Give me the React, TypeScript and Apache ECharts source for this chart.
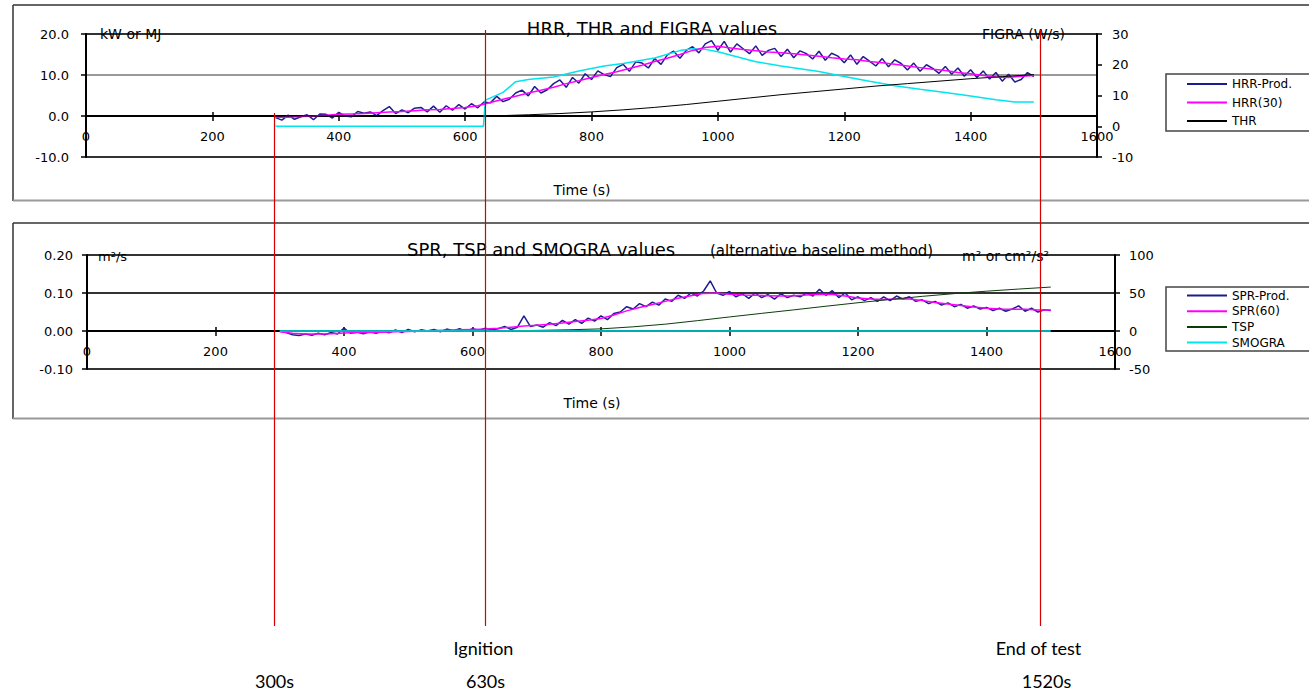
import React, { useEffect, useRef } from "react";
import * as echarts from "echarts";

const FONT = '"DejaVu Sans", "Liberation Sans", Arial, sans-serif';
const NOTE_FONT = 'Lato, "Open Sans", sans-serif';

// sampling instants (s)
const times10 = Array.from({ length: 121 }, (_, i) => 300 + i * 10);
const times20 = Array.from({ length: 61 }, (_, i) => 300 + i * 20);

// HRR-Prod. (kW), every 10 s from 300 s to 1500 s
const hrrProd = [
  -0.4, -1.0, 0.2, -0.8, -0.2, 0.3, -0.9, 0.5, 0.4, -0.5,
  0.9, 0.0, -0.2, 1.1, 0.7, 1.0, 0.1, 1.3, 2.3, 0.6,
  1.5, 0.8, 1.9, 2.1, 1.0, 2.4, 0.9, 2.5, 1.4, 2.8,
  1.7, 3.0, 2.0, 3.4, 3.2, 4.8, 3.5, 4.1, 5.6, 6.3,
  4.9, 7.2, 5.6, 6.4, 7.9, 8.8, 7.0, 9.4, 8.0, 10.3,
  8.9, 11.0, 10.1, 9.6, 11.8, 12.6, 10.9, 13.2, 12.9, 11.7,
  14.0, 12.6, 14.9, 15.8, 14.1, 16.0, 16.9, 15.4, 17.6, 18.4,
  16.0, 18.2, 15.6, 17.6, 16.4, 15.2, 17.1, 14.8, 16.0, 16.5,
  14.5, 16.3, 14.2, 15.9, 15.2, 13.9, 15.8, 13.6, 15.3, 14.6,
  13.0, 14.9, 12.6, 14.5, 13.4, 12.2, 14.0, 12.0, 13.7, 12.8,
  11.2, 12.9, 10.9, 12.5, 11.6, 10.4, 12.1, 10.2, 11.7, 9.7,
  11.3, 9.4, 11.0, 9.0, 10.6, 8.5, 10.2, 8.3, 8.9, 10.6,
  9.6,
];

// HRR(30) (kW), every 20 s from 300 s to 1500 s
const hrr30 = [
  -0.3, -0.3, -0.1, 0.0, 0.2, 0.4, 0.5, 0.6, 0.8, 1.0,
  1.1, 1.3, 1.5, 1.6, 1.8, 2.1, 2.5, 3.3, 4.1, 4.8,
  5.6, 6.3, 7.0, 7.9, 8.6, 9.4, 10.1, 10.8, 11.6, 12.4,
  13.3, 14.1, 15.0, 16.0, 16.7, 17.0, 16.6, 16.2, 15.9, 15.6,
  15.4, 15.2, 14.9, 14.6, 14.2, 13.9, 13.7, 13.3, 13.0, 12.6,
  12.2, 11.8, 11.4, 11.1, 10.6, 10.3, 9.9, 9.5, 9.4, 9.7,
  9.9,
];

// THR (MJ)
const thrTimes = [300, 630, 660, 700, 750, 800, 850, 900, 950, 1000, 1050, 1100, 1150, 1200, 1250, 1300, 1350, 1400, 1450, 1500];
const thrValues = [0, 0, 0.1, 0.3, 0.6, 1.0, 1.5, 2.1, 2.8, 3.6, 4.4, 5.2, 5.9, 6.6, 7.3, 7.9, 8.5, 9.1, 9.6, 10.1];

// FIGRA (W/s)
const figraTimes = [300, 629, 632, 660, 680, 700, 740, 780, 820, 850, 900, 940, 960, 980, 1000, 1030, 1060, 1100, 1160, 1200, 1240, 1280, 1320, 1360, 1400, 1440, 1470, 1500];
const figraValues = [0, 0, 8.5, 11, 14.5, 15.2, 16.0, 18.0, 19.6, 20.4, 22.2, 24.6, 25.2, 25.0, 24.2, 22.6, 21.0, 19.6, 17.8, 16.2, 14.6, 13.2, 12.0, 11.0, 9.8, 8.6, 7.9, 7.9];

// SPR-Prod. (m²/s), every 10 s from 300 s to 1500 s
const sprProd = [
  0.000, -0.004, -0.010, -0.012, -0.008, -0.011, -0.006, -0.010, -0.004, -0.008,
  0.008, -0.006, -0.003, -0.007, -0.002, -0.006, 0.000, -0.005, 0.003, -0.004,
  0.004, -0.002, 0.003, 0.000, 0.004, -0.002, 0.005, 0.001, 0.006, -0.001,
  0.006, 0.002, 0.007, 0.003, 0.006, 0.012, 0.004, 0.010, 0.040, 0.012,
  0.016, 0.010, 0.022, 0.014, 0.028, 0.018, 0.030, 0.020, 0.034, 0.026,
  0.040, 0.030, 0.046, 0.050, 0.064, 0.058, 0.072, 0.064, 0.076, 0.068,
  0.084, 0.078, 0.094, 0.086, 0.100, 0.092, 0.106, 0.132, 0.100, 0.094,
  0.104, 0.090, 0.098, 0.086, 0.100, 0.088, 0.096, 0.084, 0.098, 0.088,
  0.094, 0.090, 0.100, 0.092, 0.110, 0.094, 0.106, 0.088, 0.100, 0.082,
  0.090, 0.080, 0.088, 0.078, 0.090, 0.080, 0.092, 0.084, 0.090, 0.078,
  0.082, 0.072, 0.078, 0.068, 0.074, 0.064, 0.070, 0.060, 0.066, 0.058,
  0.062, 0.054, 0.060, 0.052, 0.058, 0.066, 0.052, 0.060, 0.050, 0.056,
  0.054,
];

// SPR(60) (m²/s), every 20 s from 300 s to 1500 s
const spr60 = [
  -0.002, -0.006, -0.008, -0.008, -0.007, -0.005, -0.004, -0.004, -0.003, -0.002,
  -0.001, 0.000, 0.001, 0.002, 0.003, 0.004, 0.005, 0.007, 0.010, 0.013,
  0.015, 0.018, 0.021, 0.025, 0.028, 0.033, 0.042, 0.053, 0.062, 0.070,
  0.078, 0.086, 0.093, 0.099, 0.100, 0.097, 0.095, 0.094, 0.093, 0.092,
  0.093, 0.095, 0.097, 0.096, 0.092, 0.087, 0.084, 0.083, 0.084, 0.084,
  0.080, 0.075, 0.071, 0.067, 0.063, 0.060, 0.058, 0.057, 0.057, 0.055,
  0.055,
];

// TSP (m²)
const tspTimes = [300, 600, 650, 700, 750, 800, 850, 900, 950, 1000, 1050, 1100, 1150, 1200, 1250, 1300, 1350, 1400, 1450, 1500];
const tspValues = [0, 0, 0.3, 0.8, 1.6, 2.8, 5.5, 9.0, 13.6, 18.5, 23.2, 27.8, 32.6, 37.2, 41.5, 45.6, 49.2, 52.4, 55.2, 57.8];

// SMOGRA (cm²/s²)
const smograTimes = [300, 1500];
const smograValues = [0, 0];

// annotation labels under the charts
const markerTimesText = ["300s", "630s", "1520s"];
const markerNotes = ["", "Ignition", "End of test"];

const zip = (t: number[], v: number[]) => t.map((x, i) => [x, v[i]]);

export default function App() {
  const ref = useRef<HTMLDivElement>(null);

  useEffect(() => {
    if (!ref.current) return;
    const chart = echarts.init(ref.current, undefined, { renderer: "svg" });

    const axisLabelBase = { fontFamily: FONT, fontSize: 13, color: "#000" };
    const blackLine = { color: "#000", width: 2 };

    const xAxisCommon = (gridIndex: number, labelMargin: number, zeroAxis: number) => ({
      gridIndex,
      type: "value",
      position: "bottom",
      min: 0,
      max: 1600,
      interval: 200,
      axisLine: { show: true, onZero: true, onZeroAxisIndex: zeroAxis, lineStyle: blackLine },
      axisTick: { show: true, length: 5, lineStyle: { color: "#000", width: 1.5 } },
      axisLabel: { ...axisLabelBase, margin: labelMargin, formatter: (v: number) => String(v) },
      splitLine: { show: false },
    });
    // upper half of the crossing tick marks
    const xTickUp = (gridIndex: number, zeroAxis: number) => ({
      gridIndex,
      type: "value",
      position: "bottom",
      min: 0,
      max: 1600,
      interval: 200,
      axisLine: { show: true, onZero: true, onZeroAxisIndex: zeroAxis, lineStyle: blackLine },
      axisTick: { show: true, inside: true, length: 4, lineStyle: { color: "#000", width: 1.5 } },
      axisLabel: { show: false },
      splitLine: { show: false },
    });

    const lineSeries = (name: string, xi: number, yi: number, data: number[][], color: string, width: number, z = 2) => ({
      name,
      type: "line",
      xAxisIndex: xi,
      yAxisIndex: yi,
      data,
      showSymbol: false,
      symbol: "none",
      lineStyle: { color, width },
      itemStyle: { color },
      z,
    });

    const legendCommon = {
      orient: "vertical",
      left: 1166,
      icon: "rect",
      itemWidth: 40,
      itemHeight: 2,
      selectedMode: false,
      borderColor: "#444",
      borderWidth: 1.5,
      backgroundColor: "#fff",
      textStyle: { fontFamily: FONT, fontSize: 12, color: "#000", lineHeight: 13 },
    };

    const txt = (text: string, x: number, y: number, font: string, align = "center", vAlign = "middle") => ({
      type: "text",
      x,
      y,
      z: 50,
      style: { text, font, fill: "#000", align, verticalAlign: vAlign },
    });

    const redX = [274.5, 485.5, 1040.5];
    const redTop = [113, 30, 30];
    const graphics: any[] = [
      // outer frames
      { type: "line", shape: { x1: 13, y1: 5, x2: 1309, y2: 5 }, style: { stroke: "#333", lineWidth: 1.5 }, z: 1 },
      { type: "line", shape: { x1: 13, y1: 5, x2: 13, y2: 201 }, style: { stroke: "#333", lineWidth: 1.5 }, z: 1 },
      { type: "line", shape: { x1: 13, y1: 200.5, x2: 1309, y2: 200.5 }, style: { stroke: "#999", lineWidth: 2 }, z: 1 },
      { type: "line", shape: { x1: 13, y1: 223, x2: 1309, y2: 223 }, style: { stroke: "#333", lineWidth: 1.5 }, z: 1 },
      { type: "line", shape: { x1: 13, y1: 223, x2: 13, y2: 419 }, style: { stroke: "#333", lineWidth: 1.5 }, z: 1 },
      { type: "line", shape: { x1: 13, y1: 418.5, x2: 1309, y2: 418.5 }, style: { stroke: "#999", lineWidth: 2 }, z: 1 },
      // titles and axis names
      txt("HRR, THR and FIGRA values", 652, 28, `18px ${FONT}`),
      txt("kW or MJ", 100, 34, `14px ${FONT}`, "left"),
      txt("FIGRA (W/s)", 982, 34, `14px ${FONT}`, "left"),
      txt("Time (s)", 582, 190, `14px ${FONT}`),
      txt("SPR, TSP and SMOGRA values", 407, 258, `18px ${FONT}`, "left", "bottom"),
      txt("(alternative baseline method)", 710, 258, `15px ${FONT}`, "left", "bottom"),
      txt("m²/s", 98, 256, `13px ${FONT}`, "left"),
      txt("m² or cm²/s²", 962, 256, `14px ${FONT}`, "left"),
      txt("Time (s)", 592, 403, `14px ${FONT}`),
    ];
    redX.forEach((x, i) => {
      graphics.push({
        type: "line",
        shape: { x1: x, y1: redTop[i], x2: x, y2: 626 },
        style: { stroke: "#d40000", lineWidth: 1.2 },
        z: 100,
      });
      if (markerNotes[i]) graphics.push(txt(markerNotes[i], x - 2, 648, `18px ${NOTE_FONT}`));
      graphics.push(txt(markerTimesText[i], x + (i === 2 ? 6 : 0), 690, `18px ${NOTE_FONT}`, "center", "bottom"));
    });

    chart.setOption({
      animation: false,
      backgroundColor: "#fff",
      textStyle: { fontFamily: FONT },
      grid: [
        { left: 86, top: 34, width: 1011, height: 123, containLabel: false },
        { left: 87, top: 255, width: 1028, height: 114, containLabel: false },
      ],
      xAxis: [xAxisCommon(0, -27, 0), xAxisCommon(1, -24, 2), xTickUp(0, 0), xTickUp(1, 2)],
      yAxis: [
        {
          gridIndex: 0,
          type: "value",
          position: "left",
          min: -10,
          max: 20,
          interval: 10,
          axisLine: { show: true, onZero: false, lineStyle: blackLine },
          axisTick: { show: true, length: 5, lineStyle: { color: "#000", width: 1.5 } },
          axisLabel: { ...axisLabelBase, margin: 17, formatter: (v: number) => v.toFixed(1) },
          splitLine: { show: true, lineStyle: { color: ["#333", "#000", "#999", "#333"], width: 2 } },
        },
        {
          gridIndex: 0,
          type: "value",
          position: "right",
          min: -10,
          max: 30,
          interval: 10,
          axisLine: { show: true, onZero: false, lineStyle: blackLine },
          axisTick: { show: true, length: 5, lineStyle: { color: "#000", width: 1.5 } },
          axisLabel: { ...axisLabelBase, margin: 15 },
          splitLine: { show: false },
        },
        {
          gridIndex: 1,
          type: "value",
          position: "left",
          min: -0.1,
          max: 0.2,
          interval: 0.1,
          axisLine: { show: true, onZero: false, lineStyle: blackLine },
          axisTick: { show: true, length: 5, lineStyle: { color: "#000", width: 1.5 } },
          axisLabel: { ...axisLabelBase, margin: 14, formatter: (v: number) => v.toFixed(2) },
          splitLine: { show: true, lineStyle: { color: ["#333", "#000", "#333", "#333"], width: 2 } },
        },
        {
          gridIndex: 1,
          type: "value",
          position: "right",
          min: -50,
          max: 100,
          interval: 50,
          axisLine: { show: true, onZero: false, lineStyle: blackLine },
          axisTick: { show: true, length: 5, lineStyle: { color: "#000", width: 1.5 } },
          axisLabel: { ...axisLabelBase, margin: 14 },
          splitLine: { show: false },
        },
      ],
      legend: [
        {
          ...legendCommon,
          top: 74,
          itemGap: 5.5,
          padding: [3.5, 40, 3.5, 21],
          data: ["HRR-Prod.", "HRR(30)", "THR"],
        },
        {
          ...legendCommon,
          top: 287,
          itemGap: 2.7,
          padding: [2, 40, 2, 21],
          data: ["SPR-Prod.", "SPR(60)", "TSP", "SMOGRA"],
        },
      ],
      series: [
        lineSeries("HRR-Prod.", 0, 0, zip(times10, hrrProd), "#1c1c8e", 1.5, 2),
        lineSeries("HRR(30)", 0, 0, zip(times20, hrr30), "#ff00ff", 1.5, 3),
        lineSeries("THR", 0, 0, zip(thrTimes, thrValues), "#000000", 1, 3),
        lineSeries("FIGRA", 0, 1, zip(figraTimes, figraValues), "#00e5ee", 1.5, 2),
        lineSeries("SPR-Prod.", 1, 2, zip(times10, sprProd), "#1c1c8e", 1.5, 2),
        lineSeries("SPR(60)", 1, 2, zip(times20, spr60), "#ff00ff", 1.5, 3),
        lineSeries("TSP", 1, 3, zip(tspTimes, tspValues), "#0b3d0b", 1, 3),
        lineSeries("SMOGRA", 1, 3, zip(smograTimes, smograValues), "#00e5ee", 1.5, 3),
      ],
      graphic: graphics,
    });

    return () => chart.dispose();
  }, []);

  return (
    <div
      ref={ref}
      style={{ position: "absolute", left: 0, top: 0, width: 1309, height: 692, background: "#fff" }}
    />
  );
}
